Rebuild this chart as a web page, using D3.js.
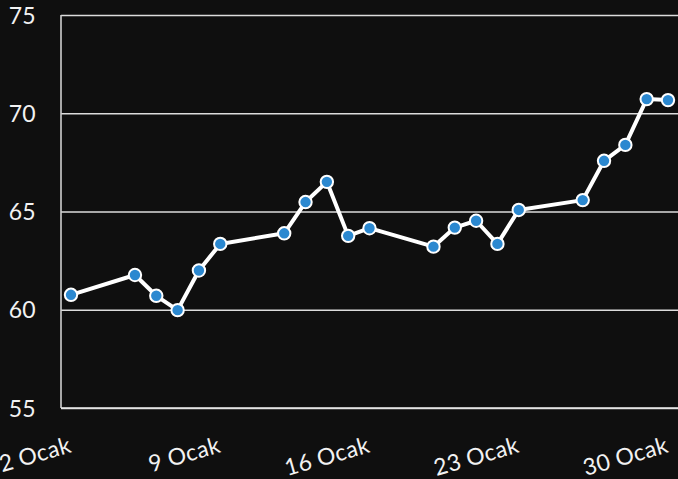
<!DOCTYPE html>
<meta charset="utf-8">
<style>
body { margin: 0; background: #0f0f0f; }
svg { display: block; }
.grid line { stroke: #dcdcdc; stroke-width: 1.6px; }
.grid path { display: none; }
.tick text { fill: #f2f2f2; font-family: Lato, sans-serif; font-size: 23px; letter-spacing: 0.3px; }
.line { fill: none; stroke: #fff; stroke-width: 4px; stroke-linejoin: round; }
.dot { fill: #2b88d0; stroke: #fff; stroke-width: 2px; }
</style>
<body>
<script src="https://d3js.org/d3.v7.min.js"></script>
<script>

// data
var days = ["2015-01-02","2015-01-05","2015-01-06","2015-01-07","2015-01-08","2015-01-09",
            "2015-01-12","2015-01-13","2015-01-14","2015-01-15","2015-01-16",
            "2015-01-19","2015-01-20","2015-01-21","2015-01-22","2015-01-23",
            "2015-01-26","2015-01-27","2015-01-28","2015-01-29","2015-01-30"];
var values = [60.76, 61.77, 60.71, 59.98, 62.0, 63.35,
              63.89, 65.48, 66.51, 63.76, 64.15,
              63.21, 64.18, 64.53, 63.35, 65.08,
              65.58, 67.58, 68.39, 70.72, 70.67];
var yTicks = [55, 60, 65, 70, 75];
var xTickDays = ["2015-01-02","2015-01-09","2015-01-16","2015-01-23","2015-01-30"];
var monthName = "Ocak";

var parse = d3.timeParse("%Y-%m-%d");
var data = days.map(function(d, i) { return {date: parse(d), value: values[i]}; });

var W = 678, H = 479;
var margin = {top: 15, right: 0, bottom: 71, left: 61};
var width = W - margin.left - margin.right,
    height = H - margin.top - margin.bottom;

var svg = d3.select("body").append("svg")
    .attr("width", W)
    .attr("height", H);

svg.append("rect").attr("width", W).attr("height", H).attr("fill", "#0f0f0f");

var g = svg.append("g")
    .attr("transform", "translate(" + margin.left + "," + margin.top + ")");

// half a day of padding each side
var pad = 0.469 * 864e5;
var x = d3.scaleTime()
    .domain([new Date(data[0].date.getTime() - pad), new Date(data[data.length - 1].date.getTime() + pad)])
    .range([0, width]);

var y = d3.scaleLinear()
    .domain([55, 75])
    .range([height, 0]);

// y grid + labels
var yAxis = g.append("g")
    .attr("class", "grid")
    .call(d3.axisLeft(y).tickValues(yTicks).tickSize(-width).tickPadding(25));
yAxis.selectAll(".tick text").attr("dy", "0.35em").attr("x", -25);

// left axis line
g.append("line")
    .attr("x1", 0).attr("x2", 0)
    .attr("y1", 0).attr("y2", height)
    .attr("stroke", "#cfcfcf").attr("stroke-width", 1.6);

// x axis
var xAxis = g.append("g")
    .attr("class", "grid")
    .attr("transform", "translate(0," + height + ")")
    .call(d3.axisBottom(x)
      .tickValues(xTickDays.map(parse))
      .tickSize(0)
      .tickFormat(function(d) { return d.getDate() + " " + monthName; }));
xAxis.selectAll(".tick text")
    .attr("y", 0).attr("dy", 0)
    .attr("text-anchor", "end")
    .attr("transform", "translate(1,44) rotate(-16)");

g.append("line")
    .attr("x1", 0).attr("x2", width)
    .attr("y1", height).attr("y2", height)
    .attr("stroke", "#e6e6e6").attr("stroke-width", 1.6);

var valueline = d3.line()
    .x(function(d) { return x(d.date); })
    .y(function(d) { return y(d.value); });

g.append("path")
    .datum(data)
    .attr("class", "line")
    .attr("d", valueline);

g.selectAll(".dot")
    .data(data)
  .enter().append("circle")
    .attr("class", "dot")
    .attr("cx", function(d) { return x(d.date); })
    .attr("cy", function(d) { return y(d.value); })
    .attr("r", 6.2);

</script>
</body>
